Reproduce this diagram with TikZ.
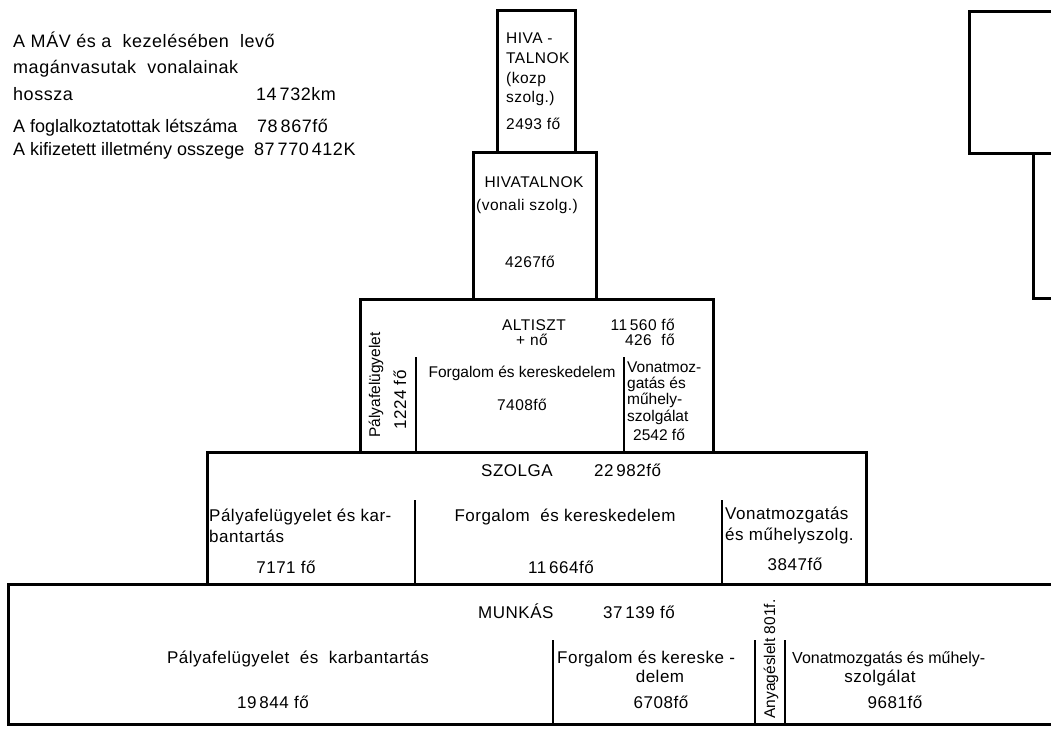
\documentclass[tikz,border=0pt]{standalone}
\usepackage{fontspec}
\setmainfont{Liberation Sans}[LetterSpace=3]
\newfontfamily\tightfont{Liberation Sans}[LetterSpace=0]
\begin{document}
\begin{tikzpicture}[x=1pt,y=-1pt,
  box/.style={line width=3pt, line join=miter},
  divider/.style={line width=2.6pt},
  lbl/.style={inner sep=0pt, font=\fontsize{17}{19}\selectfont},
  big/.style={lbl, font=\fontsize{18}{20}\selectfont},
  bigtight/.style={lbl, font=\tightfont\fontsize{18}{20}\selectfont},
  small/.style={lbl, font=\fontsize{15.5}{17}\selectfont},
  tiny/.style={lbl, font=\tightfont\fontsize{15.5}{17}\selectfont},
  narrow/.style={lbl, font=\tightfont\fontsize{16}{18}\selectfont},
  lw/.style={anchor=base west},
  lc/.style={anchor=base},
  le/.style={anchor=base east},
  vert/.style={rotate=90, anchor=center},
]
\useasboundingbox (0,0) rectangle (1051,728);
\fill[white] (0,0) rectangle (1051,728);
\begin{scope}
\clip (0,0) rectangle (1051,728);
% boxes
\draw[box] (497,10) rectangle (575,152);
\draw[box] (473,152) rectangle (596,299);
\draw[box] (360,299) rectangle (713,452);
\draw[box] (207,452) rectangle (866,584);
\draw[box] (8,584) rectangle (1070,724);
\draw[box] (1070,11) -- (969,11) -- (969,153) -- (1070,153);
\draw[box] (1033,153) -- (1033,298) -- (1070,298);
% dividers
\coordinate (a1) at (416,357); \coordinate (a2) at (416,452);
\coordinate (a3) at (624,357); \coordinate (a4) at (624,452);
\coordinate (s1) at (415,500); \coordinate (s2) at (415,584);
\coordinate (s3) at (722,500); \coordinate (s4) at (722,584);
\coordinate (m1) at (553,640); \coordinate (m2) at (553,724);
\coordinate (m3) at (755,640); \coordinate (m4) at (755,724);
\coordinate (m5) at (785,640); \coordinate (m6) at (785,724);
\draw[divider] (a1) -- (a2);
\draw[divider] (a3) -- (a4);
\draw[divider] (s1) -- (s2);
\draw[divider] (s3) -- (s4);
\draw[divider] (m1) -- (m2);
\draw[divider] (m3) -- (m4);
\draw[divider] (m5) -- (m6);
\end{scope}
% top-left text
\node[big,lw] (t1) at (13,47) {A MÁV és a\ \ kezelésében\ \ levő};
\node[big,lw] (t2) at (13,73) {magánvasutak\ \ vonalainak};
\node[big,lw] (t3) at (13,100) {hossza};
\node[big,lw] (t3n) at (256,100) {14\,732km};
\node[bigtight,lw] (t4) at (13,132) {A foglalkoztatottak létszáma};
\node[big,lw] (t4n) at (257,132) {78\,867fő};
\node[bigtight,lw] (t5) at (13,155) {A kifizetett illetmény osszege};
\node[big,lw] (t5n) at (254,155) {87\,770\,412K};
% hivatalnok kozp
\node[small,lw] (h1) at (506,43) {HIVA -};
\node[small,lw] (h2) at (506,63) {TALNOK};
\node[small,lw] (h3) at (506,83) {(kozp};
\node[small,lw] (h4) at (506,102) {szolg.)};
\node[small,lw] (h5) at (506,129) {2493 fő};
% hivatalnok vonali
\node[small,lc] (v1) at (534,187) {HIVATALNOK};
\node[small,lw] (v2) at (476,210) {(vonali szolg.)};
\node[small,lc] (v3) at (530,267) {4267fő};
% altiszt
\node[small,lc] (al1) at (534,330) {ALTISZT};
\node[small,lc] (al2) at (532,345) {+ nő};
\node[small,le] (al3) at (675,330) {11\,560 fő};
\node[small,le] (al4) at (675,345) {426\ \ fő};
\node[tiny,vert] (al5) at (376,385) {Pályafelügyelet};
\node[lbl,vert] (al6) at (400,400) {1224 fő};
\node[tiny,lc] (al7) at (522,377) {Forgalom és kereskedelem};
\node[small,lc] (al8) at (522,410) {7408fő};
\node[tiny,lw] (al9) at (627,372) {Vonatmoz-};
\node[tiny,lw] (al10) at (627,388) {gatás és};
\node[tiny,lw] (al11) at (627,404) {műhely-};
\node[tiny,lw] (al12) at (627,421) {szolgálat};
\node[tiny,lw] (al13) at (633,440) {2542 fő};
% szolga
\node[lbl,lw] (sz1) at (481,476) {SZOLGA};
\node[lbl,lw] (sz2) at (594,476) {22\,982fő};
\node[lbl,lw] (sz3) at (209,521) {Pályafelügyelet és kar-};
\node[lbl,lw] (sz4) at (209,542) {bantartás};
\node[lbl,lc] (sz5) at (286,573) {7171 fő};
\node[lbl,lc] (sz6) at (565,521) {Forgalom\ \ és kereskedelem};
\node[lbl,lc] (sz7) at (561,573) {11\,664fő};
\node[lbl,lw] (sz8) at (725,519) {Vonatmozgatás};
\node[lbl,lw] (sz9) at (725,540) {és műhelyszolg.};
\node[lbl,lc] (sz10) at (795,570) {3847fő};
% munkas
\node[lbl,lw] (mu1) at (478,618) {MUNKÁS};
\node[lbl,lw] (mu2) at (603,618) {37\,139 fő};
\node[lbl,lc] (mu3) at (298,663) {Pályafelügyelet\ \ és\ \ karbantartás};
\node[lbl,lc] (mu4) at (273,708) {19\,844 fő};
\node[lbl,lw] (mu5) at (557,663) {Forgalom és kereske -};
\node[lbl,lc] (mu6) at (660,682) {delem};
\node[lbl,lc] (mu7) at (661,708) {6708fő};
\node[tiny,vert] (mu8) at (771,659) {Anyagéslelt 801f.};
\node[narrow,lw] (mu9) at (792,663) {Vonatmozgatás és műhely-};
\node[lbl,lc] (mu10) at (880,682) {szolgálat};
\node[lbl,lc] (mu11) at (895,708) {9681fő};
\end{tikzpicture}
\end{document}
